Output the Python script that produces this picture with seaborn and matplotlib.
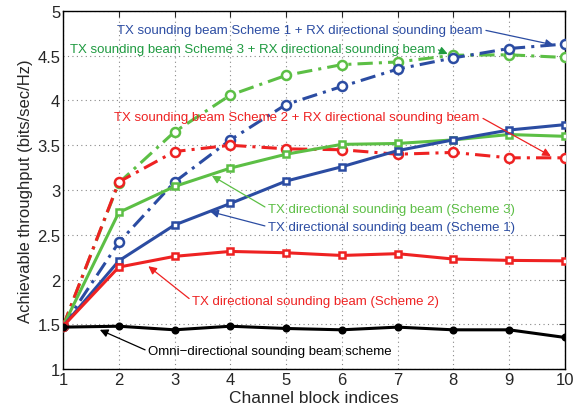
import numpy as np
import pandas as pd
import matplotlib
matplotlib.use("Agg")
import matplotlib.pyplot as plt
import seaborn as sns

# ── Data ────────────────────────────────────────────────────────────────────
blocks = [1, 2, 3, 4, 5, 6, 7, 8, 9, 10]
omni = [1.47, 1.48, 1.44, 1.48, 1.455, 1.44, 1.47, 1.44, 1.44, 1.355]
tx_s2 = [1.48, 2.14, 2.26, 2.315, 2.30, 2.27, 2.29, 2.23, 2.215, 2.21]
tx_s1 = [1.48, 2.21, 2.61, 2.85, 3.10, 3.26, 3.44, 3.56, 3.67, 3.73]
tx_s3 = [1.48, 2.75, 3.04, 3.245, 3.40, 3.51, 3.52, 3.56, 3.62, 3.60]
rx_s2 = [1.48, 3.09, 3.43, 3.50, 3.46, 3.45, 3.40, 3.42, 3.36, 3.36]
rx_s1 = [1.48, 2.415, 3.09, 3.56, 3.955, 4.156, 4.35, 4.475, 4.58, 4.63]
rx_s3 = [1.48, 3.08, 3.65, 4.06, 4.28, 4.40, 4.43, 4.505, 4.51, 4.48]

BLUE = "#2b4ca2"
GREEN = "#5cbf45"
DKGREEN = "#1f9a40"
RED = "#ee2222"

sns.set_style("white")
plt.rcParams["font.family"] = ["Liberation Sans", "DejaVu Sans"]

fig, ax = plt.subplots(figsize=(5.84, 4.10), dpi=100)
fig.subplots_adjust(left=0.108, right=0.967, top=0.971, bottom=0.097)

dashdot = (0, (5, 2, 1, 2))
series = [
    (rx_s3, GREEN, dashdot, "o", 6.5, "white"),
    (rx_s1, BLUE, dashdot, "o", 6.5, "white"),
    (rx_s2, RED, dashdot, "o", 6.5, "white"),
    (tx_s3, GREEN, "-", "s", 4.5, "white"),
    (tx_s1, BLUE, "-", "s", 4.5, "white"),
    (tx_s2, RED, "-", "s", 4.5, "white"),
    (omni, "black", "-", "o", 4, "black"),
]
for vals, col, ls, mk, ms, mfc in series:
    df = pd.DataFrame({"block": blocks, "thr": vals})
    sns.lineplot(data=df, x="block", y="thr", ax=ax, color=col, linestyle=ls,
                 linewidth=2.2, marker=mk, markersize=ms, markerfacecolor=mfc,
                 markeredgecolor=col, markeredgewidth=1.8, zorder=3)

ax.set_xlim(1, 10)
ax.set_ylim(1, 5)
ax.set_xticks(np.arange(1, 11, 1))
ax.set_yticks(np.arange(1, 5.01, 0.5))
ax.set_yticklabels(["1", "1.5", "2", "2.5", "3", "3.5", "4", "4.5", "5"])
ax.tick_params(direction="in", length=4, labelsize=12, top=True, right=True, pad=2)
ax.grid(True, linestyle=(0, (1, 3)), color="#888888", linewidth=0.8)
for sp in ax.spines.values():
    sp.set_color("black")
    sp.set_linewidth(1.0)
ax.set_xlabel("Channel block indices", fontsize=12.5, labelpad=2)
ax.set_ylabel("Achievable throughput (bits/sec/Hz)", fontsize=12, labelpad=3)

# ── Annotations ─────────────────────────────────────────────────────────────
def note(text, xy, xytext, col, side="left"):
    rel = (0.0, 0.5) if side == "left" else (1.0, 0.5)
    ax.annotate(text, xy=xy, xytext=xytext, textcoords="data", color=col,
                fontsize=9.5, ha="left", va="center",
                arrowprops=dict(arrowstyle="-|>", color=col, lw=0.9,
                                mutation_scale=12, shrinkA=0, shrinkB=0,
                                relpos=rel))

note("TX sounding beam Scheme 1 + RX directional sounding beam",
     (9.8, 4.62), (1.97, 4.79), BLUE, "right")
note("TX sounding beam Scheme 3 + RX directional sounding beam",
     (7.9, 4.52), (1.12, 4.58), DKGREEN, "right")
note("TX sounding beam Scheme 2 + RX directional sounding beam",
     (9.75, 3.38), (1.92, 3.82), RED, "right")
note("TX directional sounding beam (Scheme 3)",
     (3.67, 3.16), (4.68, 2.79), GREEN)
note("TX directional sounding beam (Scheme 1)",
     (3.64, 2.76), (4.68, 2.59), BLUE)
note("TX directional sounding beam (Scheme 2)",
     (2.53, 2.15), (3.32, 1.76), RED)
note("Omni\u2212directional sounding beam scheme",
     (1.66, 1.44), (2.53, 1.20), "black")

plt.savefig("out.png", dpi=100)
plt.close()
